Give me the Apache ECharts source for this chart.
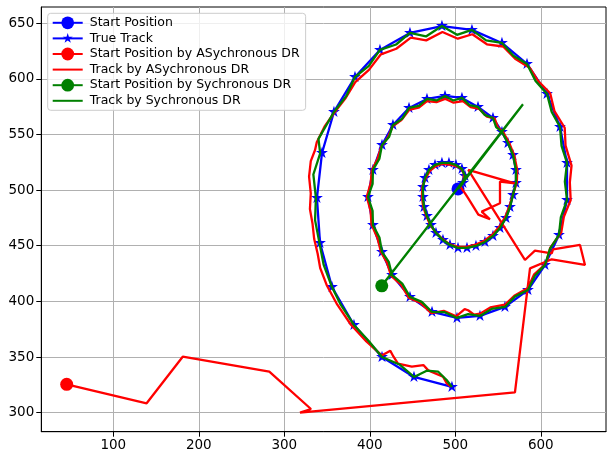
<!DOCTYPE html>
<html><head><meta charset="utf-8">
<script src="https://cdn.jsdelivr.net/npm/echarts@6/dist/echarts.min.js"></script>
<style>html,body{margin:0;padding:0;background:#fff}#c{width:607px;height:453px}</style>
</head><body><div id="c"></div>
<script>
const xTicks = [100, 200, 300, 400, 500, 600];
const yTicks = [300, 350, 400, 450, 500, 550, 600, 650];

const trueStart = [[503.2, 501.0]];
const trueTrack = [[503.2,501.0],[509.0,506.4],[511.4,512.7],[507.8,519.0],[500.8,522.6],[492.6,524.4],[484.4,524.4],[476.3,522.6],[469.2,518.1],[464.6,510.9],[462.2,502.8],[462.2,493.8],[463.4,484.8],[466.9,476.7],[471.6,468.6],[477.4,461.5],[485.6,455.2],[493.8,450.7],[503.2,448.0],[513.7,448.0],[524.2,449.8],[534.7,453.4],[544.1,458.8],[552.3,466.0],[559.3,474.9],[564.0,484.8],[567.5,495.6],[571.0,506.4],[571.0,518.1],[567.5,531.5],[561.6,542.3],[554.6,552.2],[544.1,564.8],[526.6,574.7],[507.8,582.8],[488.0,584.6],[466.9,581.9],[445.9,573.8],[427.1,558.5],[414.3,540.5],[403.7,518.1],[397.9,493.8],[403.7,468.6],[414.3,444.4],[426.0,423.7],[447.0,404.0],[472.8,390.5],[502.0,385.1],[528.9,386.9],[558.1,395.0],[585.0,410.2],[604.9,432.7],[621.3,459.7],[630.7,491.1],[630.7,524.4],[622.5,556.7],[607.3,586.4],[583.9,613.3],[554.6,632.2],[519.5,643.9],[484.4,647.4],[447.0,641.2],[411.9,625.9],[382.7,601.6],[358.1,570.2],[344.1,533.3],[338.2,492.9],[341.8,452.5],[355.8,412.9],[381.5,378.8],[414.3,350.0],[451.7,332.1],[496.1,323.1]];

const asyncStart = [[45.5, 325.5]];
const asyncTrack = [[45.5,325.5],[139,308.4],[181.2,350.3],[282.5,336.8],[331.2,303.3],[318.4,300],[569.8,318.3],[587.4,429.7],[612.8,437.8],[651.7,432.7],[645.9,450.7],[614.4,446.8],[612.8,443.2],[593.2,445.6],[581.5,437.2],[515.2,518.1],[569.8,506.1],[552.3,507.6],[552.3,488.1],[530.9,480.6],[540.6,473.8],[527,478],[515.2,492.6],[511.4,497.1],[506,503],
[510,509],[510,515],[506,520],[499,522],[492,523],[484,523.5],[477,521.5],[470,517],[465,510],[461.5,503],[461,494],[462.5,485],[466,477],[470.5,469],[477,462],[485,456],[493,451.5],[503,449],[513,449],[524,451],[534,454.5],[543.5,460],[551.5,467],[558.5,476],[563.5,486],[567.5,496],[572,507],[572.5,518],[569,531],[563,542.5],
[559,548],[556,552.5],[550,556],[546,564.5],[537,566],[528,573],[518,574.5],[509,580],[498,578.5],[488,582],[478,579],[467,580],[457,574],[446,572],[437,563],[427,557.5],[421,547],[413.5,539],[409,528],[402.5,518],[401,506],[396.5,494],[401,481],[402,469],[409,457],[413,444.5],[420,435],[425,423],[436.5,415],[446,403],[459.5,398.5],[472,389.5],[486.5,391.5],[501,386.5],[511,393],[515,392],[522,388],[529,389],[541,394.5],[558,397],[569,405],[585,412],[592,424],[606,434],[611,448],[624,462],[627,476],[635,491],[634,507],[636,522],[629,540],[628,556],[616,571],[611,587],[597,598],[587,610],[570,618],[556,629],[537,631],[520,640],[503,636],[485,642],[466,634.5],[448,637],[431,627],[413,622],[399,608],[383,597],[372,583],[358,569],[347,557],[338,543],[336,536],[331,526],[329,512],[331,497],[330,483],[333,470],[335,456],[339,443],[342,430],[350,414],[362,397],[378,379],[396,364],[414,351.4],[424,355.7],[427.6,350.5],[433,344],[449.2,341.3],[462.7,342.8],[468.4,338],[485.7,332.3],[489.9,326.4],[495,323.5]];

const syncStart = [[414, 414]];
const syncTrack = [[414,414],[579.2,577.1],[503.2,501.0],
[509.0,506.4],[511.4,512.7],[507.8,519.0],[500.8,522.6],[492.6,524.4],[484.4,524.4],[476.3,522.6],[469.2,518.1],[464.6,510.9],[462.2,502.8],[462.2,493.8],[463.4,484.8],[466.9,476.7],[471.6,468.6],[477.4,461.5],[485.6,455.2],[493.8,450.7],[503.2,448.0],[513.7,448.0],[524.2,449.8],[534.7,453.4],[544.1,458.8],[552.3,466.0],[559.3,474.9],[564.0,484.8],[567.5,495.6],[571.0,506.4],[571.0,518.1],[567.5,531.5],[561.6,542.3],
[554.6,552.2],[547.8,556.5],[544.1,564.8],[534.3,567.6],[526.6,574.7],[516.6,576.4],[507.8,582.8],[497.8,580.5],[488.0,584.6],[478,580.5],[466.9,581.9],[457.4,575.6],[445.9,573.8],[438,564.2],[427.1,558.5],[422.7,547.9],[414.3,540.5],[411.3,528.3],[403.7,518.1],[403.3,505.6],[397.9,493.8],[403.3,481.4],[403.7,468.6],[411.3,457.4],[414.3,444.4],[422.2,435.5],[426.0,423.7],[438,415.9],[447.0,404.0],[460.8,399.6],[472.8,390.5],[487.6,390.3],[502.0,385.1],[515,388.5],[528.9,386.9],[542.4,393.2],[558.1,395.0],[570,404.5],[585.0,410.2],[593,422.9],[604.9,432.7],[610.8,447.1],[621.3,459.7],[623.5,475.7],[630.7,491.1],[628.2,507.5],[630.7,524.4],[624.3,539.7],[622.5,556.7],[612.8,570.2],[607.3,586.4],[593.9,598.0],[583.9,613.3],[568,620.6],[554.6,632.2],[536,634.5],[519.5,643.9],[502,639.5],[484.4,647.4],[465.7,638],[447.0,641.2],[430.8,630.8],[411.9,625.9],[398.9,611.6],[382.7,601.6],[372.4,584.4],[358.1,570.2],[340,546],[342,533],[334,514],[337,493],[336,473],[341,453],[346,433],[355.8,412.9],[366,397],[381.5,378.8],[398,365],[414.3,350.0],[435.3,343],[451.7,332.1],[466.6,337.7],[480.1,336.8],[489.9,329.4],[496.1,323.1]];

const names = ['Start Position','True Track','Start Position by ASychronous DR','Track by ASychronous DR','Start Position by Sychronous DR','Track by Sychronous DR'];
const BLUE = '#0000ff', RED = '#ff0000', GREEN = '#008000';
const STAR = 'path://M-12,-12M12,12M0,-10L2.245,-3.09L9.51,-3.09L3.633,1.18L5.88,8.09L0,3.82L-5.88,8.09L-3.633,1.18L-9.51,-3.09L-2.245,-3.09Z';

function lineSeries(name, data, color, symbol, size, z) {
  return {
    name, type: 'line', data, z,
    symbol, symbolSize: size, showSymbol: symbol !== 'none', showAllSymbol: true,
    lineStyle: { color, width: 2.3 }, itemStyle: { color, borderWidth: 0 },
    emphasis: { disabled: true }, animation: false, clip: true
  };
}

const chart = echarts.init(document.getElementById('c'), null, { renderer: 'canvas' });
const axisCommon = {
  type: 'value',
  axisLine: { show: true, onZero: false, lineStyle: { color: '#000', width: 1 } },
  axisTick: { show: true, inside: false, length: 5, lineStyle: { color: '#000', width: 1 } },
  splitLine: { show: true, lineStyle: { color: '#b0b0b0', width: 1 } },
  axisLabel: { color: '#000', fontFamily: 'DejaVu Sans', fontSize: 13.5, margin: 7 }
};
chart.setOption({
  animation: false,
  backgroundColor: '#fff',
  grid: { left: 41.3, right: 1, top: 7, bottom: 21.3, show: true, borderColor: '#000', borderWidth: 1, containLabel: false },
  xAxis: Object.assign({}, axisCommon, {
    min: 15.8, max: 676.3,
    axisTick: Object.assign({}, axisCommon.axisTick, { customValues: xTicks }),
    axisLabel: Object.assign({}, axisCommon.axisLabel, { customValues: xTicks })
  }),
  yAxis: Object.assign({}, axisCommon, {
    min: 282.9, max: 664.5,
    axisTick: Object.assign({}, axisCommon.axisTick, { customValues: yTicks }),
    axisLabel: Object.assign({}, axisCommon.axisLabel, { customValues: yTicks })
  }),
  legend: {
    orient: 'vertical', left: 47.7, top: 13.3,
    padding: [3, 6, 3, 4],
    itemWidth: 30, itemHeight: 16, itemGap: 2.6,
    backgroundColor: 'rgba(255,255,255,0.8)', borderColor: '#cccccc', borderWidth: 1, borderRadius: 3,
    textStyle: { fontFamily: 'DejaVu Sans', fontSize: 12.5, color: '#000', padding: [0, 0, 0, 2] },
    data: [
      { name: names[0] }, { name: names[1] }, { name: names[2] },
      { name: names[3], itemStyle: { opacity: 0 } },
      { name: names[4] },
      { name: names[5], itemStyle: { opacity: 0 } }
    ],
    selectedMode: false
  },
  series: [
    lineSeries(names[0], trueStart, BLUE, 'circle', 13, 2),
    lineSeries(names[1], trueTrack, BLUE, STAR, 15, 2),
    lineSeries(names[2], asyncStart, RED, 'circle', 13, 3),
    lineSeries(names[3], asyncTrack, RED, 'none', 0, 3),
    lineSeries(names[4], syncStart, GREEN, 'circle', 13, 4),
    lineSeries(names[5], syncTrack, GREEN, 'none', 0, 4)
  ]
});
</script></body></html>
